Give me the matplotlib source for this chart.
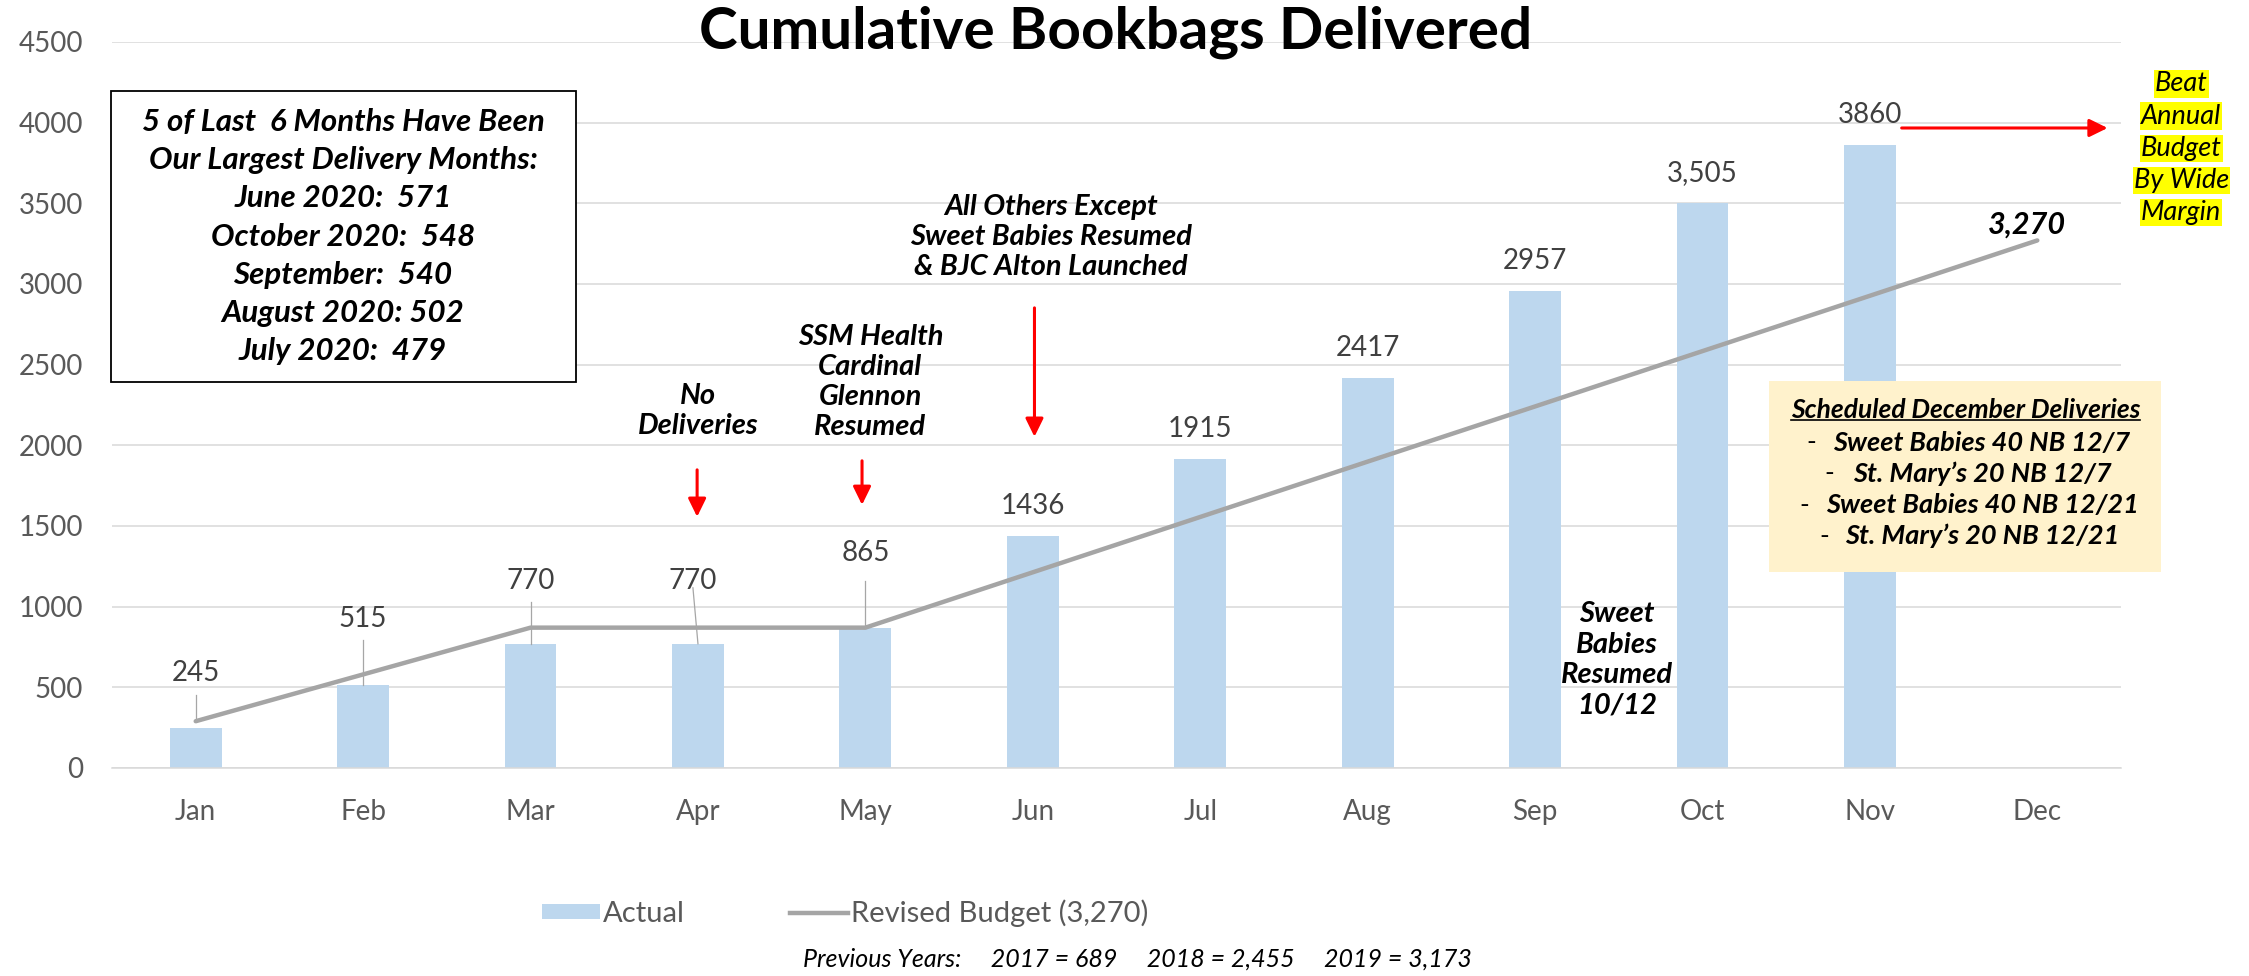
import matplotlib
matplotlib.use("Agg")
import matplotlib.pyplot as plt
from matplotlib.patches import Rectangle, Patch
from matplotlib.lines import Line2D

plt.rcParams['font.family'] = ['Lato', 'DejaVu Sans']

# ---------------- data ----------------
months = ["Jan", "Feb", "Mar", "Apr", "May", "Jun", "Jul", "Aug", "Sep", "Oct", "Nov", "Dec"]
actual = [245, 515, 770, 770, 865, 1436, 1915, 2417, 2957, 3505, 3860]
actual_labels = ["245", "515", "770", "770", "865", "1436", "1915", "2417", "2957", "3,505", "3860"]
budget = [290, 580, 870, 870, 870, 1213, 1556, 1899, 2241, 2584, 2927, 3270]
yticks = [0, 500, 1000, 1500, 2000, 2500, 3000, 3500, 4000, 4500]

box_lines = ["5 of Last  6 Months Have Been", "Our Largest Delivery Months:",
             "June 2020:  571", "October 2020:  548", "September:  540",
             "August 2020: 502", "July 2020:  479"]
dec_title = "Scheduled December Deliveries"
dec_lines = ["Sweet Babies 40 NB 12/7", "St. Mary\u2019s 20 NB 12/7",
             "Sweet Babies 40 NB 12/21", "St. Mary\u2019s 20 NB 12/21"]
beat_lines = ["Beat", "Annual", "Budget", "By Wide", "Margin"]
prev_text = "Previous Years:     2017 = 689     2018 = 2,455     2019 = 3,173"

# ---------------- layout ----------------
W, H = 2249, 976
fig = plt.figure(figsize=(W / 100, H / 100), dpi=100)
ax = fig.add_axes([112 / W, 1 - 768 / H, (2121 - 112) / W, (768 - 42) / H])

BAR = "#BDD7EE"
LINE = "#A5A5A5"
GRID = "#D9D9D9"
TXT = "#595959"
RED = "#FF0000"

x = list(range(len(months)))
ax.bar(x[:len(actual)], actual, width=0.31, color=BAR, zorder=2)
ax.plot(x, budget, color=LINE, lw=3.2, zorder=3, solid_capstyle='round', solid_joinstyle='round')

ax.set_xlim(-0.5, 11.5)
ax.set_ylim(0, 4500)
ax.set_yticks(yticks)
ax.set_yticklabels([str(v) for v in yticks])
ax.set_xticks(x)
ax.set_xticklabels(months)
ax.tick_params(axis='both', length=0, labelsize=20, labelcolor=TXT)
ax.tick_params(axis='y', pad=21)
ax.tick_params(axis='x', pad=22)
ax.grid(axis='y', color=GRID, lw=1.1, zorder=0)
ax.set_axisbelow(True)
for s in ['top', 'right', 'left']:
    ax.spines[s].set_visible(False)
ax.spines['bottom'].set_color(GRID)
ax.spines['bottom'].set_linewidth(1.1)

# data labels
moved = {0: (0.0, 590, 454, 293), 1: (1.0, 925, 795, 516), 2: (2.0, 1162, 1032, 770),
         3: (2.97, 1162, 1117, 770), 4: (4.0, 1330, 1162, 870)}
for i, (v, lab) in enumerate(zip(actual, actual_labels)):
    if i in moved:
        lx, ly, y0, y1 = moved[i]
        ax.text(lx, ly, lab, ha='center', va='center', fontsize=20, color="#404040", zorder=5)
        ax.plot([lx, i], [y0, y1], color="#A6A6A6", lw=0.9, zorder=4)
    else:
        ax.text(i, v + 185, lab, ha='center', va='center', fontsize=20, color="#404040", zorder=5)

# title
fig.text(1116 / W, 1 - 32 / H, "Cumulative Bookbags Delivered", ha='center', va='center',
         fontsize=42, fontweight='bold', color='black')

# top-left box
ax.add_patch(Rectangle((-0.508, 2393), 2.778, 1803, facecolor='white', edgecolor='black',
                       lw=1.3, zorder=6, clip_on=False))
for k, t in enumerate(box_lines):
    ax.text(0.88, 4004 - k * 237, t, ha='center', va='center', fontsize=22.5,
            fontweight='bold', style='italic', zorder=7)

bi = dict(fontsize=21, fontweight='bold', style='italic', ha='center', va='center', zorder=7,
          linespacing=1.2)
ax.text(3.0, 2213, "No\nDeliveries", **bi)
ax.text(4.03, 2393, "SSM Health\nCardinal\nGlennon\nResumed", **bi)
ax.text(5.11, 3291, "All Others Except\nSweet Babies Resumed\n& BJC Alton Launched", **bi)
ax.text(8.49, 671, "Sweet\nBabies\nResumed\n10/12", **bi)
ax.text(10.94, 3366, "3,270", ha='center', va='center', fontsize=22, fontweight='bold',
        style='italic', zorder=7)

# red arrows
def red_arrow(x0, y0, x1, y1):
    ax.annotate("", xy=(x1, y1), xytext=(x0, y0),
                arrowprops=dict(arrowstyle='-|>,head_length=0.55,head_width=0.27',
                                mutation_scale=20, color=RED, lw=2.2, shrinkA=0, shrinkB=0),
                zorder=8, annotation_clip=False)

red_arrow(2.995, 1848, 2.995, 1557)
red_arrow(3.98, 1904, 3.98, 1631)
red_arrow(5.01, 2852, 5.01, 2053)
red_arrow(10.19, 3967, 11.42, 3967)

# December box
ax.add_patch(Rectangle((9.40, 1217), 2.34, 1183, facecolor="#FFF2CC", edgecolor='none',
                       zorder=6, clip_on=False))
tt = ax.text(10.57, 2216, dec_title, ha='center', va='center', fontsize=19,
             fontweight='bold', style='italic', zorder=7)
dash_x = [9.65, 9.76, 9.61, 9.73]
for k, t in enumerate(dec_lines):
    yy = 2016 - k * 193
    ax.text(dash_x[k], yy, "-", ha='center', va='center', fontsize=19, zorder=7)
    ax.text(10.67, yy, t, ha='center', va='center', fontsize=19.5, fontweight='bold',
            style='italic', zorder=7)

# Beat annual budget text
for k, t in enumerate(beat_lines):
    ax.text(11.86, 4240 - k * 199, t, ha='center', va='center', fontsize=19.5, style='italic',
            zorder=7, clip_on=False,
            bbox=dict(boxstyle='square,pad=0.04', facecolor='#FFFF00', edgecolor='none'))

# legend
handles = [Patch(facecolor=BAR, edgecolor='none', label="Actual"),
           Line2D([0], [0], color=LINE, lw=3.2, label="Revised Budget (3,270)")]
leg = fig.legend(handles=handles, loc='center', bbox_to_anchor=(845 / W, 1 - 913 / H), ncol=2,
                 frameon=False, fontsize=21, handlelength=2.0, handleheight=0.45,
                 handletextpad=0.1, columnspacing=3.6)
for t in leg.get_texts():
    t.set_color(TXT)

fig.text(1137 / W, 1 - 959 / H, prev_text, ha='center', va='center', fontsize=18,
         style='italic', color='black')

# underline for December title
fig.canvas.draw()
bb = tt.get_window_extent()
inv = ax.transData.inverted()
(ux0, uy), (ux1, _) = inv.transform([(bb.x0, bb.y0 + 2), (bb.x1, bb.y0 + 2)])
ax.plot([ux0, ux1], [uy, uy], color='black', lw=1.2, zorder=7, clip_on=False)

fig.savefig("out.png", dpi=100)
